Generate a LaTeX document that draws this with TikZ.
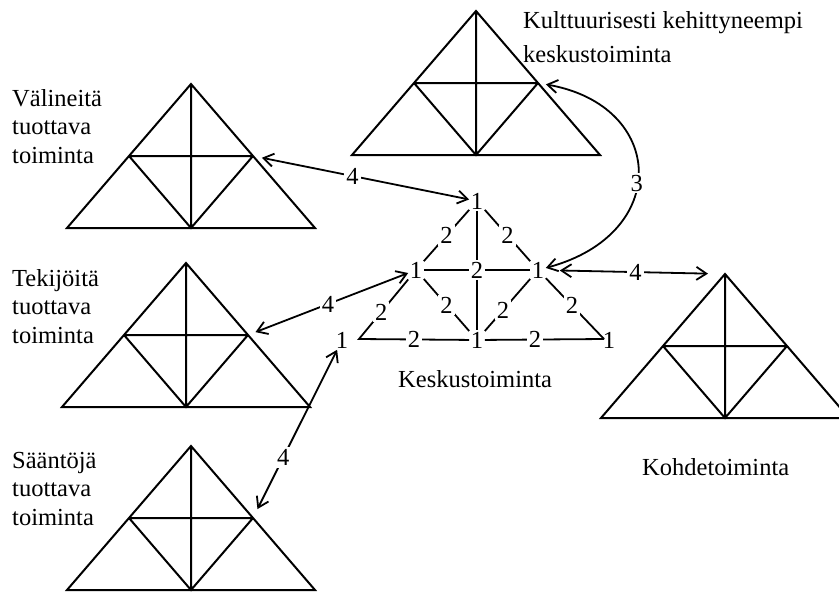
\documentclass[tikz,border=0pt]{standalone}
\usepackage{fontspec}
\setmainfont{Liberation Serif}
\usetikzlibrary{arrows.meta}
\tikzset{%
    tri/.style={line width=2pt},
    edge/.style={line width=1.8pt},
    link/.style={<->, line width=1.8pt},
    num/.style={inner sep=1.5pt, font=\fontsize{24.5}{28}\selectfont},
    lbl/.style={num, fill=white, inner sep=2pt},
    actlabel/.style={align=left, inner sep=0pt, anchor=base west,
        font=\fontsize{24.5}{28.5}\selectfont}
}

\begin{document}
\begin{tikzpicture}[x=1pt, y=-1pt, >={Straight Barb[length=10pt,width=13pt]}]
\useasboundingbox (0,0) rectangle (839,592);
\clip (0,0) rectangle (839,592);

% the five activity triangles
\foreach \tn/\x/\y in {vt/191/84, tt/186/263, st/191/446, kt/476/11, ot/725/274}{
    \coordinate (\tn-a) at (\x,\y);
    \coordinate (\tn-l) at (\x-62,\y+72);
    \coordinate (\tn-r) at (\x+62,\y+72);
    \coordinate (\tn-bl) at (\x-124,\y+144);
    \coordinate (\tn-bm) at (\x,\y+144);
    \coordinate (\tn-br) at (\x+124,\y+144);
    \draw[tri] (\tn-a) -- (\tn-bl) -- (\tn-br) -- cycle
        (\tn-l) -- (\tn-r) (\tn-a) -- (\tn-bm) (\tn-l) -- (\tn-bm) -- (\tn-r);
}

% names (placed at the baseline of their last line)
\node[actlabel] (vt-name) at (12,163) {Välineitä\\tuottava\\toiminta};
\node[actlabel] (tt-name) at (12,343) {Tekijöitä\\tuottava\\toiminta};
\node[actlabel] (st-name) at (12,525) {Sääntöjä\\tuottava\\toiminta};
\node[actlabel] (kt-name) at (523,62) {Kulttuurisesti kehittyneempi\\[5pt]keskustoiminta};
\node[actlabel] (ot-name) at (642,475) {Kohdetoiminta};
\node[actlabel] (c-name) at (398,387) {Keskustoiminta};

% central activity
\node[num] (c-top) at (477,201) {1};
\node[num] (c-ml) at (416,270) {1};
\node[num] (c-mr) at (538,270) {1};
\node[num] (c-bm) at (477,340) {1};
\node[num] (c-bl) at (342,340) {1};
\node[num] (c-br) at (609,340) {1};
\node[num] (c-mid) at (477,270) {2};
\coordinate (c-blc) at (359,339);
\coordinate (c-brc) at (604,339);

\draw[edge] (c-top) -- node[lbl]{2} (c-ml);
\draw[edge] (c-top) -- node[lbl]{2} (c-mr);
\draw[edge] (c-top) -- (c-mid) -- (c-bm);
\draw[edge] (c-ml) -- (c-mid) -- (c-mr);
\draw[edge] (c-ml) -- node[lbl,pos=0.55]{2} (c-blc) -- node[lbl]{2} (c-bm);
\draw[edge] (c-ml) -- node[lbl]{2} (c-bm);
\draw[edge] (c-mr) -- node[lbl,pos=0.6]{2} (c-bm);
\draw[edge] (c-mr) -- node[lbl,pos=0.45]{2} (c-brc);
\draw[edge] (c-bm) -- node[lbl,pos=0.42]{2} (c-brc);

% links between the activities
\draw[link, shorten <=9pt] (vt-r) -- node[lbl,pos=0.46]{4} (c-top);
\draw[link, shorten <=8pt] (tt-r) -- node[lbl]{4} (c-ml);
\draw[link, shorten <=10pt] (st-r) -- node[lbl,pos=0.36]{4} (c-bl);
\draw[link, shorten <=8pt] (kt-r) to[out=-10, in=15, looseness=1.8]
    node[lbl,pos=0.55]{3} (c-mr);
\draw[link, shorten <=14pt, shorten >=17pt] (c-mr) -- node[lbl]{4} (ot-a);
\end{tikzpicture}
\end{document}
